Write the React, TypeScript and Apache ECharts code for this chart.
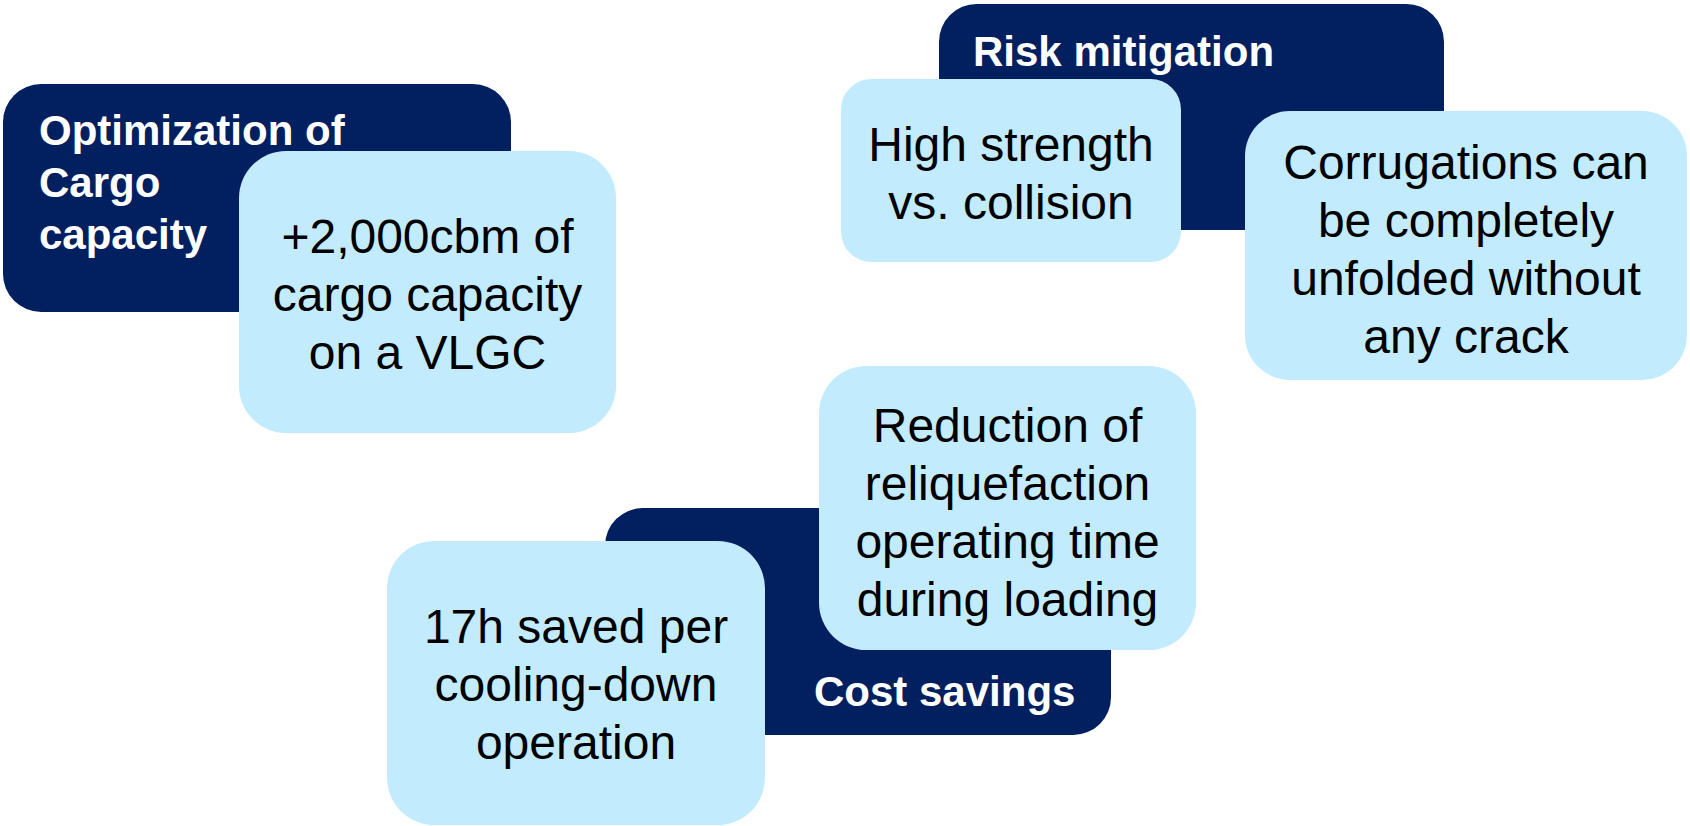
import React, { useEffect, useRef } from "react";
import * as echarts from "echarts";

// ---- content ----
const groupTitles = ["Optimization of\nCargo\ncapacity", "Risk mitigation", "Cost savings"];
const benefitTexts = [
  "+2,000cbm of\ncargo capacity\non a VLGC",
  "High strength\nvs. collision",
  "Corrugations can\nbe completely\nunfolded without\nany crack",
  "Reduction of\nreliquefaction\noperating time\nduring loading",
  "17h saved per\ncooling-down\noperation",
];

// ---- layout (pixels) ----
const groupBoxes = [
  { x: 3, y: 84, w: 508, h: 228, tx: 39, ty: 182 },
  { x: 939, y: 4, w: 505, h: 226, tx: 973, ty: 51 },
  { x: 605, y: 508, w: 506, h: 227, tx: 814, ty: 691 },
];
const benefitBoxes = [
  { x: 239, y: 151, w: 377, h: 282, dy: 2 },
  { x: 841, y: 79, w: 340, h: 183, dy: 3 },
  { x: 1245, y: 111, w: 442, h: 269, dy: 4 },
  { x: 819, y: 366, w: 377, h: 284, dy: 4 },
  { x: 387, y: 541, w: 378, h: 284, dy: 1 },
];

const DARK = "#02205F";
const LIGHT = "#C3EBFE";
const FONT = "'Liberation Sans', Arial, sans-serif";

export default function App() {
  const ref = useRef<HTMLDivElement>(null);
  useEffect(() => {
    if (!ref.current) return;
    const chart = echarts.init(ref.current, undefined, { renderer: "svg" });
    const elements: any[] = [];
    groupBoxes.forEach((b, i) => {
      elements.push({
        type: "rect",
        z: 1,
        shape: { x: b.x, y: b.y, width: b.w, height: b.h, r: Math.min(b.w, b.h) / 6 },
        style: { fill: DARK },
      });
      elements.push({
        type: "text",
        z: 3,
        x: b.tx,
        y: b.ty,
        style: {
          text: groupTitles[i],
          fill: "#ffffff",
          fontFamily: FONT,
          fontWeight: "bold",
          fontSize: 42,
          lineHeight: 52,
          align: "left",
          verticalAlign: "middle",
        },
      });
    });
    benefitBoxes.forEach((b, i) => {
      elements.push({
        type: "rect",
        z: 2,
        shape: { x: b.x, y: b.y, width: b.w, height: b.h, r: Math.min(b.w, b.h) / 6 },
        style: { fill: LIGHT },
      });
      elements.push({
        type: "text",
        z: 3,
        x: b.x + b.w / 2,
        y: b.y + b.h / 2 + b.dy,
        style: {
          text: benefitTexts[i],
          fill: "#000000",
          fontFamily: FONT,
          fontSize: 48,
          lineHeight: 58,
          align: "center",
          verticalAlign: "middle",
        },
      });
    });
    chart.setOption({
      animation: false,
      backgroundColor: "#ffffff",
      graphic: { elements },
    });
    return () => chart.dispose();
  }, []);
  return (
    <div
      ref={ref}
      style={{ position: "fixed", left: 0, top: 0, width: 1690, height: 826 }}
    />
  );
}
